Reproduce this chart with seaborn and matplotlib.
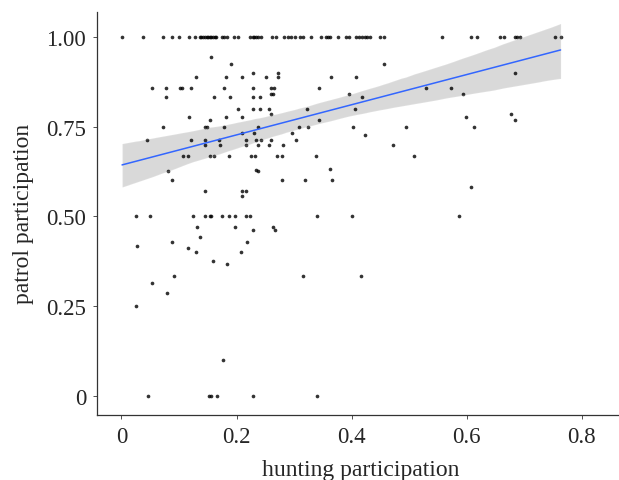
import pandas as pd
import matplotlib.pyplot as plt
import seaborn as sns

# hunting participation (x) vs patrol participation (y)
hunting_top = [0.001, 0.037, 0.073, 0.087, 0.100, 0.117, 0.128, 0.136, 0.139, 0.142,
               0.145, 0.148, 0.150, 0.153, 0.156, 0.159, 0.162, 0.165, 0.174, 0.178,
               0.183, 0.195, 0.203, 0.224, 0.229, 0.231, 0.233, 0.238, 0.242, 0.262,
               0.269, 0.282, 0.289, 0.295, 0.302, 0.310,
               0.315, 0.330, 0.346, 0.356, 0.359, 0.362, 0.377, 0.390, 0.395, 0.408,
               0.412, 0.418, 0.423, 0.427, 0.431, 0.450, 0.457, 0.557, 0.607, 0.617,
               0.658, 0.664, 0.683, 0.687, 0.692, 0.753, 0.763]

hunting_rest = [0.156, 0.191, 0.130, 0.182, 0.209, 0.229, 0.252, 0.272, 0.272,
                0.053, 0.077, 0.102, 0.105, 0.121, 0.178, 0.229, 0.260, 0.265,
                0.077, 0.161, 0.188, 0.229, 0.241, 0.260, 0.264,
                0.203, 0.229, 0.240, 0.256, 0.260,
                0.117, 0.153, 0.182, 0.209,
                0.073, 0.145, 0.149, 0.178, 0.238,
                0.209, 0.231, 0.297,
                0.044, 0.121, 0.145, 0.170, 0.216, 0.234, 0.243, 0.259, 0.303,
                0.145, 0.172, 0.216, 0.237, 0.256, 0.280,
                0.107, 0.115, 0.153, 0.161, 0.186, 0.225, 0.232, 0.270, 0.279,
                0.080, 0.234, 0.237, 0.087, 0.279,
                0.145, 0.209, 0.216, 0.209,
                0.026, 0.050, 0.125, 0.145, 0.153, 0.155, 0.174, 0.186, 0.198, 0.217, 0.224,
                0.131, 0.198, 0.229, 0.264, 0.267,
                0.136, 0.027, 0.087, 0.115, 0.218,
                0.129, 0.208, 0.159, 0.183,
                0.091, 0.053, 0.079, 0.026, 0.176,
                0.046, 0.152, 0.155, 0.166, 0.229,
                0.456, 0.364, 0.407, 0.344, 0.395, 0.418, 0.530, 0.572, 0.593, 0.684,
                0.322, 0.406, 0.343, 0.598, 0.676, 0.684,
                0.309, 0.324, 0.402, 0.494, 0.612,
                0.424, 0.472, 0.338, 0.509, 0.363, 0.319, 0.366, 0.607,
                0.340, 0.401, 0.586, 0.315, 0.417, 0.340]

patrol_rest = [0.944, 0.923, 0.889, 0.889, 0.889, 0.900, 0.889, 0.900, 0.889,
               0.857, 0.857, 0.857, 0.857, 0.857, 0.857, 0.857, 0.857, 0.857,
               0.833, 0.833, 0.833, 0.833, 0.833, 0.840, 0.840,
               0.800, 0.800, 0.800, 0.800, 0.786,
               0.778, 0.769, 0.778, 0.778,
               0.750, 0.750, 0.750, 0.750, 0.750,
               0.733, 0.733, 0.733,
               0.714, 0.714, 0.714, 0.714, 0.714, 0.714, 0.714, 0.714, 0.714,
               0.700, 0.700, 0.700, 0.700, 0.700, 0.700,
               0.667, 0.667, 0.667, 0.667, 0.667, 0.667, 0.667, 0.667, 0.667,
               0.625, 0.630, 0.625, 0.600, 0.600,
               0.571, 0.571, 0.571, 0.556,
               0.500, 0.500, 0.500, 0.500, 0.500, 0.500, 0.500, 0.500, 0.500, 0.500, 0.500,
               0.471, 0.471, 0.462, 0.471, 0.462,
               0.444, 0.417, 0.429, 0.412, 0.429,
               0.400, 0.400, 0.375, 0.368,
               0.333, 0.316, 0.286, 0.250, 0.100,
               0.0, 0.0, 0.0, 0.0, 0.0,
               0.923, 0.889, 0.889, 0.857, 0.840, 0.833, 0.857, 0.857, 0.840, 0.900,
               0.800, 0.800, 0.769, 0.778, 0.786, 0.769,
               0.750, 0.750, 0.750, 0.750, 0.750,
               0.727, 0.700, 0.667, 0.667, 0.632, 0.600, 0.600, 0.583,
               0.500, 0.500, 0.500, 0.333, 0.333, 0.0]

hunting = hunting_top + hunting_rest
patrol = [1.0] * len(hunting_top) + patrol_rest

df = pd.DataFrame({"hunting": hunting, "patrol": patrol})

sns.set_style("ticks")
plt.rcParams["font.family"] = ["Liberation Serif", "DejaVu Serif"]

fig = plt.figure(figsize=(6.19, 4.81), dpi=100)
ax = fig.add_axes([97.3 / 619, 65.3 / 481, 526 / 619, 402.7 / 481])

sns.regplot(
    data=df, x="hunting", y="patrol", ax=ax, color="black",
    scatter_kws={"s": 7, "linewidths": 0},
    line_kws={"lw": 1.1},
    seed=0,
)
ax.lines[-1].set_color("#3366FF")
ax.lines[-1].set_zorder(5)

ax.set_xlim(-0.042, 0.872)
ax.set_ylim(-0.052, 1.069)
ax.set_xticks([0, 0.2, 0.4, 0.6, 0.8])
ax.set_xticklabels(["0", "0.2", "0.4", "0.6", "0.8"])
ax.set_yticks([0, 0.25, 0.5, 0.75, 1.0])
ax.set_yticklabels(["0", "0.25", "0.50", "0.75", "1.00"])
ax.tick_params(labelsize=16.5, length=3, width=0.6, color="#333333", pad=5)
ax.set_xlabel("hunting participation", fontsize=17, labelpad=9)
ax.set_ylabel("patrol participation", fontsize=17, labelpad=9)
for s in ["top", "right"]:
    ax.spines[s].set_visible(False)
for s in ["left", "bottom"]:
    ax.spines[s].set_color("#333333")
    ax.spines[s].set_linewidth(0.9)

fig.savefig("out.png", dpi=100)
